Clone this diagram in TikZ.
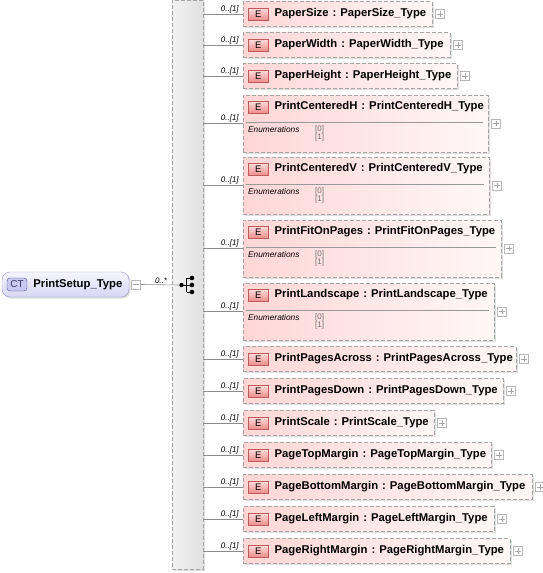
\documentclass[tikz,border=0pt]{standalone}
\usepackage{fontspec}
\setmainfont{Liberation Sans}
\usetikzlibrary{positioning,shadows}

\definecolor{elemleft}{RGB}{255,214,214}
\definecolor{elemright}{RGB}{255,247,247}
\definecolor{boxline}{RGB}{165,165,165}
\definecolor{badgetop}{RGB}{255,222,222}
\definecolor{badgebot}{RGB}{238,140,140}
\definecolor{badgeline}{RGB}{190,90,90}
\definecolor{cttop}{RGB}{246,246,255}
\definecolor{ctbot}{RGB}{214,214,244}
\definecolor{ctline}{RGB}{150,150,195}
\definecolor{ctbadgefill}{RGB}{200,200,240}
\definecolor{ctbadgeline}{RGB}{80,80,150}
\definecolor{paneltop}{RGB}{242,242,242}
\definecolor{panelbot}{RGB}{224,224,224}

\tikzset{
	elem/.style={draw=boxline, dash pattern=on 4pt off 2pt, left color=elemleft, right color=elemright,
		drop shadow={shadow xshift=1.5pt, shadow yshift=-1.5pt, fill=black!25, opacity=.5},
		inner sep=0pt, anchor=west},
	ebadge/.style={draw=badgeline, top color=badgetop, bottom color=badgebot,
		minimum width=20pt, minimum height=12pt, inner sep=0pt, font=\fontsize{9.5}{10}\selectfont},
	ename/.style={inner sep=0pt, font=\fontsize{11.3}{13}\bfseries},
	mult/.style={inner sep=1pt, font=\fontsize{8}{9}\itshape},
	pm/.style={draw=boxline!80, fill=white, minimum size=9pt, inner sep=0pt},
	pmsign/.style={draw=black!35, line width=.5pt},
	conn/.style={draw=black!45, line width=.6pt},
	ctbox/.style={draw=ctline, top color=cttop, bottom color=ctbot, rounded corners=8pt,
		minimum width=127pt, minimum height=25pt, inner sep=0pt,
		drop shadow={shadow xshift=1.5pt, shadow yshift=-1.5pt, fill=black!25, opacity=.5}},
	ctbadge/.style={draw=ctbadgeline, fill=ctbadgefill, rounded corners=3pt,
		minimum width=20pt, minimum height=13pt, inner sep=0pt,
		text=ctbadgeline!70!black, font=\fontsize{10}{11}\selectfont},
	panel/.style={draw=boxline, dash pattern=on 4pt off 2pt, left color=paneltop, right color=panelbot,
		minimum width=31pt, minimum height=569pt, inner sep=0pt,
		drop shadow={shadow xshift=1.5pt, shadow yshift=-1.5pt, fill=black!25, opacity=.5}},
	enumtxt/.style={inner sep=0pt, anchor=west, font=\fontsize{8.3}{9}\itshape},
	enumval/.style={inner sep=0pt, anchor=west, text=black!55, font=\fontsize{8}{9}\selectfont}
}

\begin{document}
\begin{tikzpicture}[x=1pt, y=-1pt]
	\useasboundingbox (0,0) rectangle (543,573);
	% complex type
	\node[ctbox] (ct) at (65.5,284.5) {};
	\node[ctbadge, right=5pt of ct.west] (ctb) {CT};
	\node[ename, right=6pt of ctb] (ctn) {PrintSetup\_Type};
	\node[pm, right=2pt of ct.east] (ctm) {};
	\draw[pmsign] ([xshift=2pt]ctm.west) -- ([xshift=-2pt]ctm.east);
	% sequence
	\node[panel] (seq) at (187.5,284.5) {};
	\coordinate (sq) at (181.5,285);
	\draw[conn] (ctm.east) -- (sq) node[mult, midway, above] {0..*};
	\fill (sq) circle (2.2pt);
	\draw[line width=.7pt] (sq) -- (186.5,285) (186.5,278) -- (186.5,292);
	\foreach \j in {278,285,292}{
		\draw[line width=.7pt] (186.5,\j) -- (192,\j);
		\fill (192,\j) circle (2.3pt);
	}
	% elements
	\foreach \n/\nm/\y/\w in {1/PaperSize/14/189, 2/PaperWidth/45/207, 3/PaperHeight/76/214,
			8/PrintPagesAcross/359/273, 9/PrintPagesDown/391/260, 10/PrintScale/423/191,
			11/PageTopMargin/455/248, 12/PageBottomMargin/487/289,
			13/PageLeftMargin/519/251, 14/PageRightMargin/551/267}{
		\node[elem, minimum width=\w pt, minimum height=25pt] (e\n) at (243,\y) {};
		\node[ebadge, right=5pt of e\n.west] (b\n) {E};
		\node[ename, right=6pt of b\n] (t\n) {\nm\hspace{4pt}:\hspace{4pt}\nm\_Type};
		\node[pm, right=3pt of e\n.east] (p\n) {};
		\draw[pmsign] ([xshift=2pt]p\n.west) -- ([xshift=-2pt]p\n.east)
			([yshift=2pt]p\n.south) -- ([yshift=-2pt]p\n.north);
		\draw[conn] (seq.east |- e\n.west) -- (e\n.west)
			node[mult, pos=1, anchor=south east, xshift=-3pt] {0..[1]};
	}
	% elements with enumerations
	\foreach \n/\nm/\y/\w in {4/PrintCenteredH/123.5/245, 5/PrintCenteredV/185.5/246,
			6/PrintFitOnPages/248.5/258, 7/PrintLandscape/311.5/251}{
		\node[elem, minimum width=\w pt, minimum height=57pt] (e\n) at (243,\y) {};
		\node[ebadge, anchor=north west] (b\n) at ([xshift=5pt, yshift=-6pt]e\n.north west) {E};
		\node[ename, right=6pt of b\n] (t\n) {\nm\hspace{4pt}:\hspace{4pt}\nm\_Type};
		\draw[draw=black!40, line width=.6pt] ([xshift=3pt, yshift=1pt]e\n.west) -- ([xshift=-5pt, yshift=1pt]e\n.east);
		\node[enumtxt] (en\n) at ([xshift=5pt, yshift=-6pt]e\n.west) {Enumerations};
		\node[enumval] (va\n) at ([xshift=72pt, yshift=-6pt]e\n.west) {[0]};
		\node[enumval] (vb\n) at ([xshift=72pt, yshift=-14pt]e\n.west) {[1]};
		\node[pm, right=3pt of e\n.east] (p\n) {};
		\draw[pmsign] ([xshift=2pt]p\n.west) -- ([xshift=-2pt]p\n.east)
			([yshift=2pt]p\n.south) -- ([yshift=-2pt]p\n.north);
		\draw[conn] (seq.east |- e\n.west) -- (e\n.west)
			node[mult, pos=1, anchor=south east, xshift=-3pt] {0..[1]};
	}
\end{tikzpicture}
\end{document}
